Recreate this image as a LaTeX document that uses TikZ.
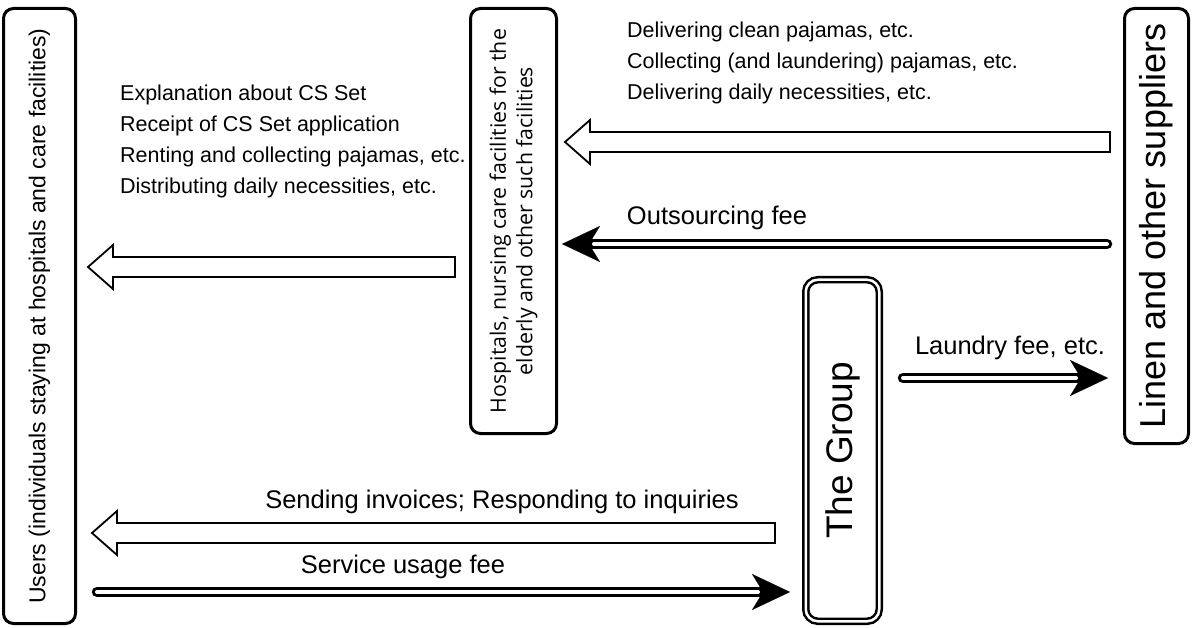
\documentclass[tikz,border=0pt]{standalone}
\usepackage{fontspec}
\setmainfont{Liberation Sans}
\newfontfamily\osans{Open Sans}
\usetikzlibrary{arrows.meta,calc}
\newcommand\hollowarrow[2]{%
  \draw[hollow] ($(#1)+(0,-10)$) -- ($(#2)+(25,-10)$) -- ($(#2)+(25,-22)$) -- (#2)
    -- ($(#2)+(25,22)$) -- ($(#2)+(25,10)$) -- ($(#1)+(0,10)$) -- cycle;}
\newcommand\dblarrow[2]{%
  \draw[line width=10.5pt, line cap=round, -{Stealth[length=38pt,width=36pt,inset=11pt,line width=0.1pt]}] (#1) -- (#2);
  \draw[white, line width=4pt, line cap=round, shorten >=32pt] (#1) -- (#2);}
\begin{document}
\begin{tikzpicture}[x=1pt,y=-1pt,
  box/.style={draw, line width=3pt, rounded corners=10pt, inner sep=0pt, outer sep=0pt, rotate=90, align=center},
  hollow/.style={draw, line width=1.8pt, fill=white, line join=miter},
  lbl/.style={inner sep=0pt, font=\fontsize{25.5}{30}\selectfont},
  lst/.style={inner sep=0pt, align=left, anchor=west, font=\fontsize{21.5}{31}\selectfont}]
\useasboundingbox (0,0) rectangle (1192,628);
% boxes
\node[box, minimum width=615pt, minimum height=72pt, font=\fontsize{23}{27}\selectfont] (users) at (39.5,316)
  {Users (individuals staying at hospitals and care facilities)};
\node[box, minimum width=425pt, minimum height=86pt, font=\osans\fontsize{21.3}{26.5}\selectfont] (hosp) at (513.5,221)
  {Hospitals, nursing care facilities for the\\ elderly and other such facilities};
\node[box, minimum width=435pt, minimum height=64pt, font=\fontsize{36}{40}\selectfont] (linen) at (1156.5,226)
  {Linen and other suppliers};
\node[draw, double, double distance=2.5pt, line width=2.5pt, rounded corners=12pt, rotate=90,
  inner sep=0pt, minimum width=341.5pt, minimum height=73.5pt, font=\fontsize{37}{40}\selectfont] (group) at (842.5,450.5)
  {The Group};
% text lists
\node[lst] (leftlist) at (120,141.5) {Explanation about CS Set\\Receipt of CS Set application\\Renting and collecting pajamas, etc.\\Distributing daily necessities, etc.};
\node[lst] (rightlist) at (627,63) {Delivering clean pajamas, etc.\\Collecting (and laundering) pajamas, etc.\\Delivering daily necessities, etc.};
% arrow labels
\node[lbl] (outs) at (717,218) {Outsourcing fee};
\node[lbl] (laund) at (1010,348) {Laundry fee, etc.};
\node[lbl] (send) at (502,502) {Sending invoices; Responding to inquiries};
\node[lbl] (serv) at (403,567) {Service usage fee};
% arrow end points
\coordinate (a1t) at (1110,142); \coordinate (a1h) at (565,142);
\coordinate (a2t) at (455,267);  \coordinate (a2h) at (88,267);
\coordinate (a3t) at (775,533);  \coordinate (a3h) at (92,533);
\coordinate (d1t) at (1107,244); \coordinate (d1h) at (562,244);
\coordinate (d2t) at (903,378);  \coordinate (d2h) at (1108,378);
\coordinate (d3t) at (97,592);   \coordinate (d3h) at (790,592);
% arrows
\hollowarrow{a1t}{a1h}
\hollowarrow{a2t}{a2h}
\hollowarrow{a3t}{a3h}
\dblarrow{d1t}{d1h}
\dblarrow{d2t}{d2h}
\dblarrow{d3t}{d3h}
\end{tikzpicture}
\end{document}
